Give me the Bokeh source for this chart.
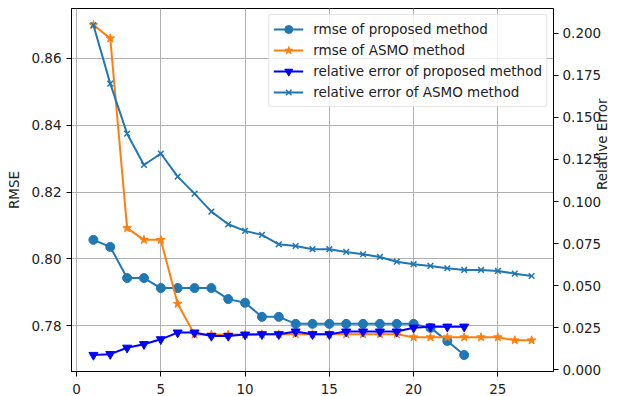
import math
from bokeh.plotting import figure
from bokeh.models import (ColumnDataSource, Range1d, LinearAxis, FixedTicker,
                          NumeralTickFormatter, Legend, LegendItem)
from bokeh.embed import file_html
from bokeh.resources import INLINE

# ---- data ----
x_prop = list(range(1, 24))
x_asmo = list(range(1, 28))
rmse_prop = [0.8057, 0.8036, 0.7943, 0.7943, 0.7913, 0.7913, 0.7913, 0.7913,
             0.7880, 0.7869, 0.7827, 0.7827, 0.7806, 0.7806, 0.7806, 0.7806,
             0.7806, 0.7806, 0.7806, 0.7806, 0.7794, 0.7755, 0.7713]
rmse_asmo = [0.8699, 0.8659, 0.8092, 0.8057, 0.8057, 0.7866, 0.7774, 0.7774,
             0.7774, 0.7774, 0.7775, 0.7775, 0.7775, 0.7775, 0.7775, 0.7775,
             0.7775, 0.7775, 0.7775, 0.7766, 0.7766, 0.7766, 0.7766, 0.7766,
             0.7766, 0.7757, 0.7757]
rel_prop = [0.0089, 0.0094, 0.0132, 0.0153, 0.0182, 0.0222, 0.0222, 0.0202,
            0.0202, 0.0210, 0.0212, 0.0212, 0.0228, 0.0212, 0.0212, 0.0228,
            0.0228, 0.0228, 0.0228, 0.0251, 0.0257, 0.0257, 0.0257]
rel_asmo = [0.2048, 0.1700, 0.1403, 0.1217, 0.1285, 0.1148, 0.1047, 0.0940,
            0.0865, 0.0826, 0.0802, 0.0746, 0.0736, 0.0717, 0.0717, 0.0701,
            0.0687, 0.0671, 0.0643, 0.0628, 0.0618, 0.0604, 0.0594, 0.0594,
            0.0588, 0.0572, 0.0558]
x_ticks = [0, 5, 10, 15, 20, 25]
left_ticks = [0.78, 0.80, 0.82, 0.84, 0.86]
right_ticks = [0.0, 0.025, 0.05, 0.075, 0.1, 0.125, 0.15, 0.175, 0.2]

names = ["rmse of proposed method", "rmse of ASMO method",
         "relative error of proposed method", "relative error of ASMO method"]

FONT = "DejaVu Sans"
FS = "13.5px"
TXT = "#222222"
C0 = "#1f77b4"
C1 = "#ff7f0e"
C2 = "#0000ff"


def padded(vals, frac=0.05):
    lo, hi = min(vals), max(vals)
    m = (hi - lo) * frac
    return lo - m, hi + m


xlo, xhi = padded(x_asmo)
ylo, yhi = padded(rmse_prop + rmse_asmo)
rlo, rhi = padded(rel_prop + rel_asmo)

p = figure(width=621, height=396, output_backend="svg", toolbar_location=None,
           x_range=Range1d(xlo, xhi), y_range=Range1d(ylo, yhi),
           min_border_left=71, min_border_top=8, min_border_bottom=25,
           min_border_right=55)
p.extra_y_ranges = {"right": Range1d(rlo, rhi)}

p.outline_line_color = "black"
p.outline_line_width = 1
p.outline_line_alpha = 1


def style_axis(ax):
    ax.axis_line_color = "black"
    ax.major_tick_line_color = "black"
    ax.major_tick_out = 5
    ax.major_tick_in = 0
    ax.minor_tick_out = 0
    ax.minor_tick_in = 0
    ax.major_label_text_font = FONT
    ax.major_label_text_font_size = FS
    ax.major_label_text_color = TXT
    ax.axis_label_text_font = FONT
    ax.axis_label_text_font_size = FS
    ax.axis_label_text_font_style = "normal"
    ax.axis_label_text_color = TXT


xa = p.xaxis[0]
style_axis(xa)
xa.ticker = FixedTicker(ticks=x_ticks)
xa.major_label_standoff = 7

ya = p.yaxis[0]
style_axis(ya)
ya.ticker = FixedTicker(ticks=left_ticks)
ya.formatter = NumeralTickFormatter(format="0.00")
ya.axis_label = "RMSE"
ya.major_label_standoff = 5
ya.axis_label_standoff = 6

ra = LinearAxis(y_range_name="right", axis_label="Relative Error")
style_axis(ra)
ra.ticker = FixedTicker(ticks=right_ticks)
ra.formatter = NumeralTickFormatter(format="0.000")
ra.major_label_standoff = 4
ra.axis_label_standoff = -2
if "axis_label_orientation" in ra.properties():
    ra.axis_label_orientation = math.pi / 2
p.add_layout(ra, "right")

p.xgrid.grid_line_color = "#b0b0b0"
p.ygrid.grid_line_color = "#b0b0b0"
p.xgrid.grid_line_width = 1
p.ygrid.grid_line_width = 1
p.xgrid.ticker = FixedTicker(ticks=x_ticks)
p.ygrid.ticker = FixedTicker(ticks=left_ticks)

LW = 2

s1 = ColumnDataSource(dict(x=x_prop, y=rmse_prop))
s2 = ColumnDataSource(dict(x=x_asmo, y=rmse_asmo))
s3 = ColumnDataSource(dict(x=x_prop, y=rel_prop))
s4 = ColumnDataSource(dict(x=x_asmo, y=rel_asmo))

l1 = p.line("x", "y", source=s1, line_color=C0, line_width=LW)
m1 = p.scatter("x", "y", source=s1, marker="circle", size=9,
               fill_color=C0, line_color=C0)
l2 = p.line("x", "y", source=s2, line_color=C1, line_width=LW)
m2 = p.scatter("x", "y", source=s2, marker="star", size=9,
               fill_color=C1, line_color=C1)
l3 = p.line("x", "y", source=s3, line_color=C2, line_width=LW,
            y_range_name="right")
m3 = p.scatter("x", "y", source=s3, marker="inverted_triangle", size=9,
               fill_color=C2, line_color=C2, y_range_name="right")
l4 = p.line("x", "y", source=s4, line_color=C0, line_width=LW,
            y_range_name="right")
m4 = p.scatter("x", "y", source=s4, marker="x", size=8, line_width=1.5,
               line_color=C0, y_range_name="right")

legend = Legend(items=[
    LegendItem(label=names[0], renderers=[l1, m1]),
    LegendItem(label=names[1], renderers=[l2, m2]),
    LegendItem(label=names[2], renderers=[l3, m3]),
    LegendItem(label=names[3], renderers=[l4, m4]),
], location="top_right")
legend.label_text_font = FONT
legend.label_text_font_size = FS
legend.label_text_color = TXT
legend.label_standoff = 10
legend.glyph_width = 30
legend.glyph_height = 20
legend.label_height = 20
legend.spacing = 1
legend.padding = 4
legend.margin = 6
legend.border_line_color = "#cccccc"
legend.border_line_width = 1
legend.background_fill_color = "white"
legend.background_fill_alpha = 0.8
if "border_radius" in legend.properties():
    legend.border_radius = 3
p.add_layout(legend)

open("out.html", "w").write(file_html(p, INLINE))
